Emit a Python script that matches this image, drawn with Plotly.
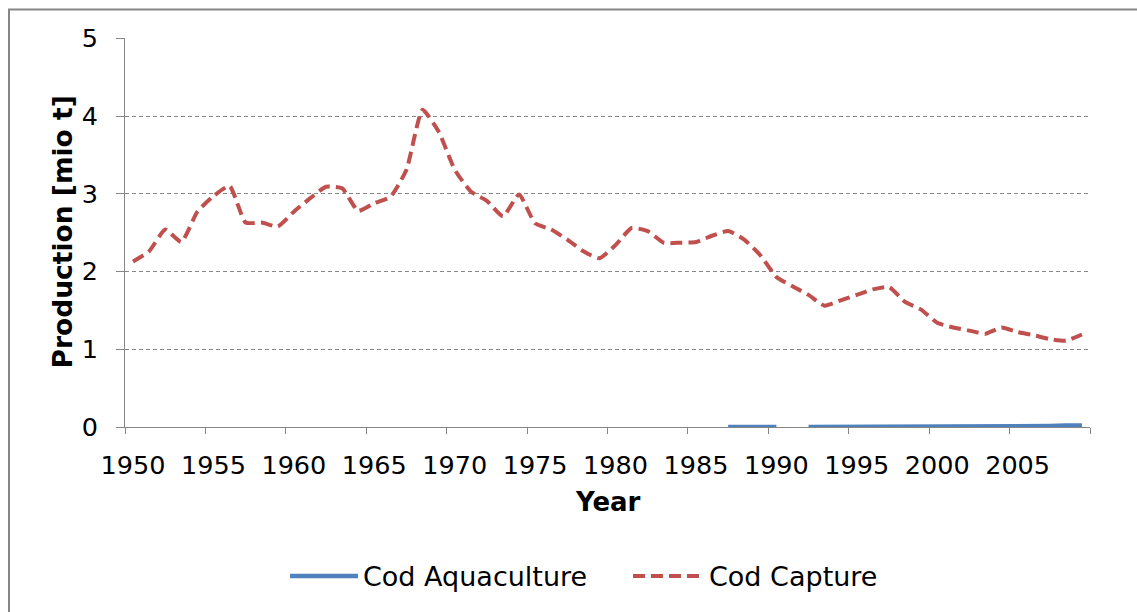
import plotly.graph_objects as go

years = list(range(1950, 2010))

cod_capture = [
    2.13, 2.26, 2.54, 2.38, 2.77, 2.97, 3.10, 2.63, 2.63, 2.58,
    2.77, 2.94, 3.09, 3.07, 2.78, 2.88, 2.96, 3.31, 4.08, 3.80,
    3.31, 3.03, 2.91, 2.71, 2.99, 2.62, 2.54, 2.41, 2.26, 2.17,
    2.34, 2.56, 2.52, 2.37, 2.37, 2.38, 2.46, 2.52, 2.41, 2.21,
    1.93, 1.81, 1.70, 1.56, 1.63, 1.70, 1.77, 1.80, 1.61, 1.51,
    1.34, 1.28, 1.24, 1.20, 1.28, 1.22, 1.18, 1.13, 1.11, 1.19,
]

cod_aquaculture = (
    [None] * 37
    + [0.0003, 0.0003, 0.0003, 0.0003]
    + [None]
    + [0.0003, 0.0006, 0.0005, 0.0003, 0.0004, 0.0003, 0.0002, 0.0003,
       0.0002, 0.0007, 0.0015, 0.0029, 0.0044, 0.0083, 0.0114, 0.0128,
       0.0183, 0.0209]
)

series_names = ["Cod Aquaculture", "Cod Capture"]
x_label_years = list(range(1950, 2010, 5))
y_ticks = [0, 1, 2, 3, 4, 5]

FONT = "DejaVu Sans"
GRAY = "#868686"
BLUE = "#4F81BD"
RED = "#C0504D"
CAP_DASH = "12px,6px"

# plot area in pixels
L, R, T, B = 125, 1090, 38, 427
PW, PH = R - L, B - T


def px(xp):
    return (xp - L) / PW


def py(yp):
    return (B - yp) / PH


fig = go.Figure()
fig.add_trace(go.Scatter(
    x=years, y=cod_aquaculture, mode="lines", name=series_names[0],
    line=dict(color=BLUE, width=4.5), connectgaps=False, showlegend=False,
))
fig.add_trace(go.Scatter(
    x=years, y=cod_capture, mode="lines", name=series_names[1],
    line=dict(color=RED, width=4, dash=CAP_DASH, shape="spline", smoothing=0.5),
    showlegend=False,
))

fig.update_layout(
    width=1137, height=612,
    margin=dict(l=L, r=1137 - R, t=T, b=612 - B),
    paper_bgcolor="white", plot_bgcolor="white",
    font=dict(family=FONT, size=25, color="black"),
    showlegend=False,
    xaxis=dict(
        range=[1949.5, 2009.5],
        tickmode="array", tickvals=x_label_years, ticktext=[str(v) for v in x_label_years],
        ticks="", showgrid=False, zeroline=False,
        showline=True, linecolor=GRAY, linewidth=1,
        ticklabelstandoff=15,
        tickfont=dict(family=FONT, size=25.5),
        minor=dict(tickmode="linear", tick0=1949.5, dtick=5, ticks="outside",
                   ticklen=6, tickcolor=GRAY, tickwidth=1, showgrid=False),
    ),
    yaxis=dict(
        range=[0, 5.004], tickmode="array", tickvals=y_ticks,
        ticks="outside", ticklen=8, tickcolor=GRAY, tickwidth=1,
        showline=True, linecolor=GRAY, linewidth=1,
        showgrid=True, gridcolor=GRAY, gridwidth=1, griddash="4px,3px",
        zeroline=False, ticklabelstandoff=13,
        tickfont=dict(family=FONT, size=25.5),
    ),
)

fig.add_annotation(text="<b>Production [mio t]</b>", xref="paper", yref="paper",
                   x=px(62), y=0.5, textangle=-90, showarrow=False,
                   font=dict(family=FONT, size=26.5), xanchor="center", yanchor="middle")
fig.add_annotation(text="<b>Year</b>", xref="paper", yref="paper",
                   x=0.5, y=py(502), showarrow=False,
                   font=dict(family=FONT, size=26), xanchor="center", yanchor="middle")

# legend (drawn manually to match sample length)
leg_y = py(576)
fig.add_shape(type="line", xref="paper", yref="paper",
              x0=px(290), x1=px(358), y0=leg_y, y1=leg_y,
              line=dict(color=BLUE, width=4.5))
fig.add_annotation(text=series_names[0], xref="paper", yref="paper",
                   x=px(361), y=leg_y, showarrow=False, xanchor="left", yanchor="middle",
                   font=dict(family=FONT, size=27))
fig.add_shape(type="line", xref="paper", yref="paper",
              x0=px(633), x1=px(705), y0=leg_y, y1=leg_y,
              line=dict(color=RED, width=4, dash=CAP_DASH))
fig.add_annotation(text=series_names[1], xref="paper", yref="paper",
                   x=px(707), y=leg_y, showarrow=False, xanchor="left", yanchor="middle",
                   font=dict(family=FONT, size=27))

# outer chart frame
fig.add_shape(type="rect", xref="paper", yref="paper",
              x0=px(9), x1=px(1160), y0=py(640), y1=py(9.5),
              line=dict(color=GRAY, width=2), fillcolor="rgba(0,0,0,0)", layer="below")

fig.write_html("out.html", config={"displayModeBar": False},
               post_script="document.body.style.margin='0';")
